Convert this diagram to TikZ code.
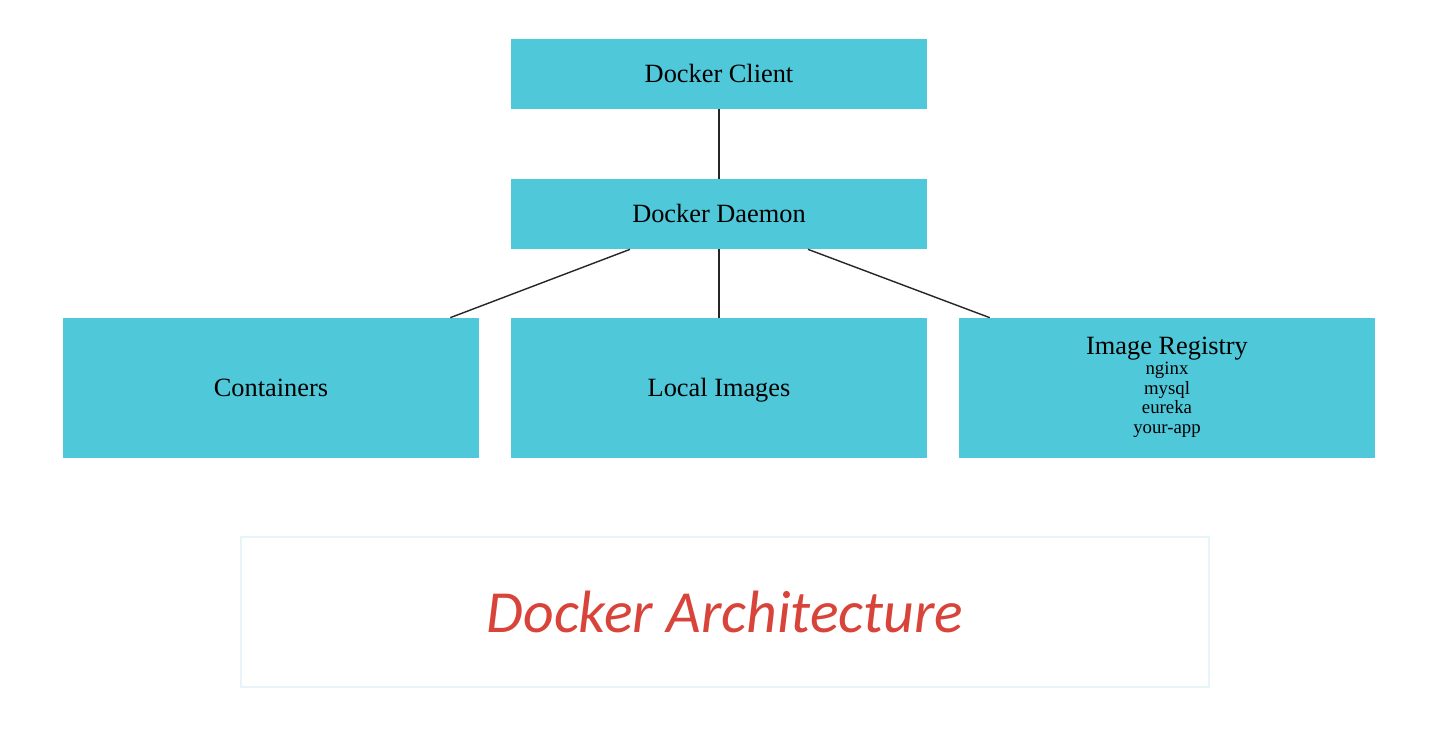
\documentclass[tikz,border=0pt]{standalone}
\usepackage{fontspec}
\setmainfont{Liberation Serif}
\newfontfamily\titlefont{Carlito}

\definecolor{dockercyan}{HTML}{4FC8DA}
\definecolor{titlered}{HTML}{D9443A}
\definecolor{paleedge}{HTML}{E8F5F8}

\tikzset{
  boxsmall/.style={fill=dockercyan,minimum width=8.32cm,minimum height=1.4cm,inner sep=0pt,
    font=\fontsize{15}{18}\selectfont,text height=10.2pt,text depth=0pt},
  boxbig/.style={boxsmall,minimum height=2.8cm},
  link/.style={draw=black!85,line width=0.8pt}
}
\newcommand{\regsize}{\fontsize{10.7}{11.2}\selectfont}
\newcommand{\bigsize}{\fontsize{15}{18}\selectfont}

\begin{document}
\begin{tikzpicture}[x=0.02cm,y=-0.02cm]

\useasboundingbox[fill=white] (0,0) rectangle (1437,736);

% Draw the top two boxes
\node[boxsmall] (client) at (719,74) {Docker Client};
\node[boxsmall] (daemon) at (719,214) {Docker Daemon};

% Draw the bottom row
\node[boxbig] (containers) at (271,388) {Containers};
\node[boxbig] (images) at (719,388) {Local Images};
\node[boxbig,font=\regsize,text height=,text depth=] (registry) at (1167,388) {\raisebox{0.27cm}{%
  \begin{tabular}{@{}c@{}}
    \bigsize Image Registry\\[0.3pt]
    nginx\\ mysql\\ eureka\\ your-app
  \end{tabular}}};

% Draw the links
\draw[link] (client) -- (daemon);
\draw[link] ([xshift=-1.78cm]daemon.south) -- ([xshift=-0.58cm]containers.north east);
\draw[link] (daemon) -- (images);
\draw[link] ([xshift=1.78cm]daemon.south) -- ([xshift=0.62cm]registry.north west);

% Draw the title
\node[draw=paleedge,line width=0.8pt,minimum width=19.36cm,minimum height=3cm,
  font=\titlefont\itshape\fontsize{34}{40}\selectfont,text=titlered] (title) at (725,612) {Docker Architecture};

\end{tikzpicture}
\end{document}
